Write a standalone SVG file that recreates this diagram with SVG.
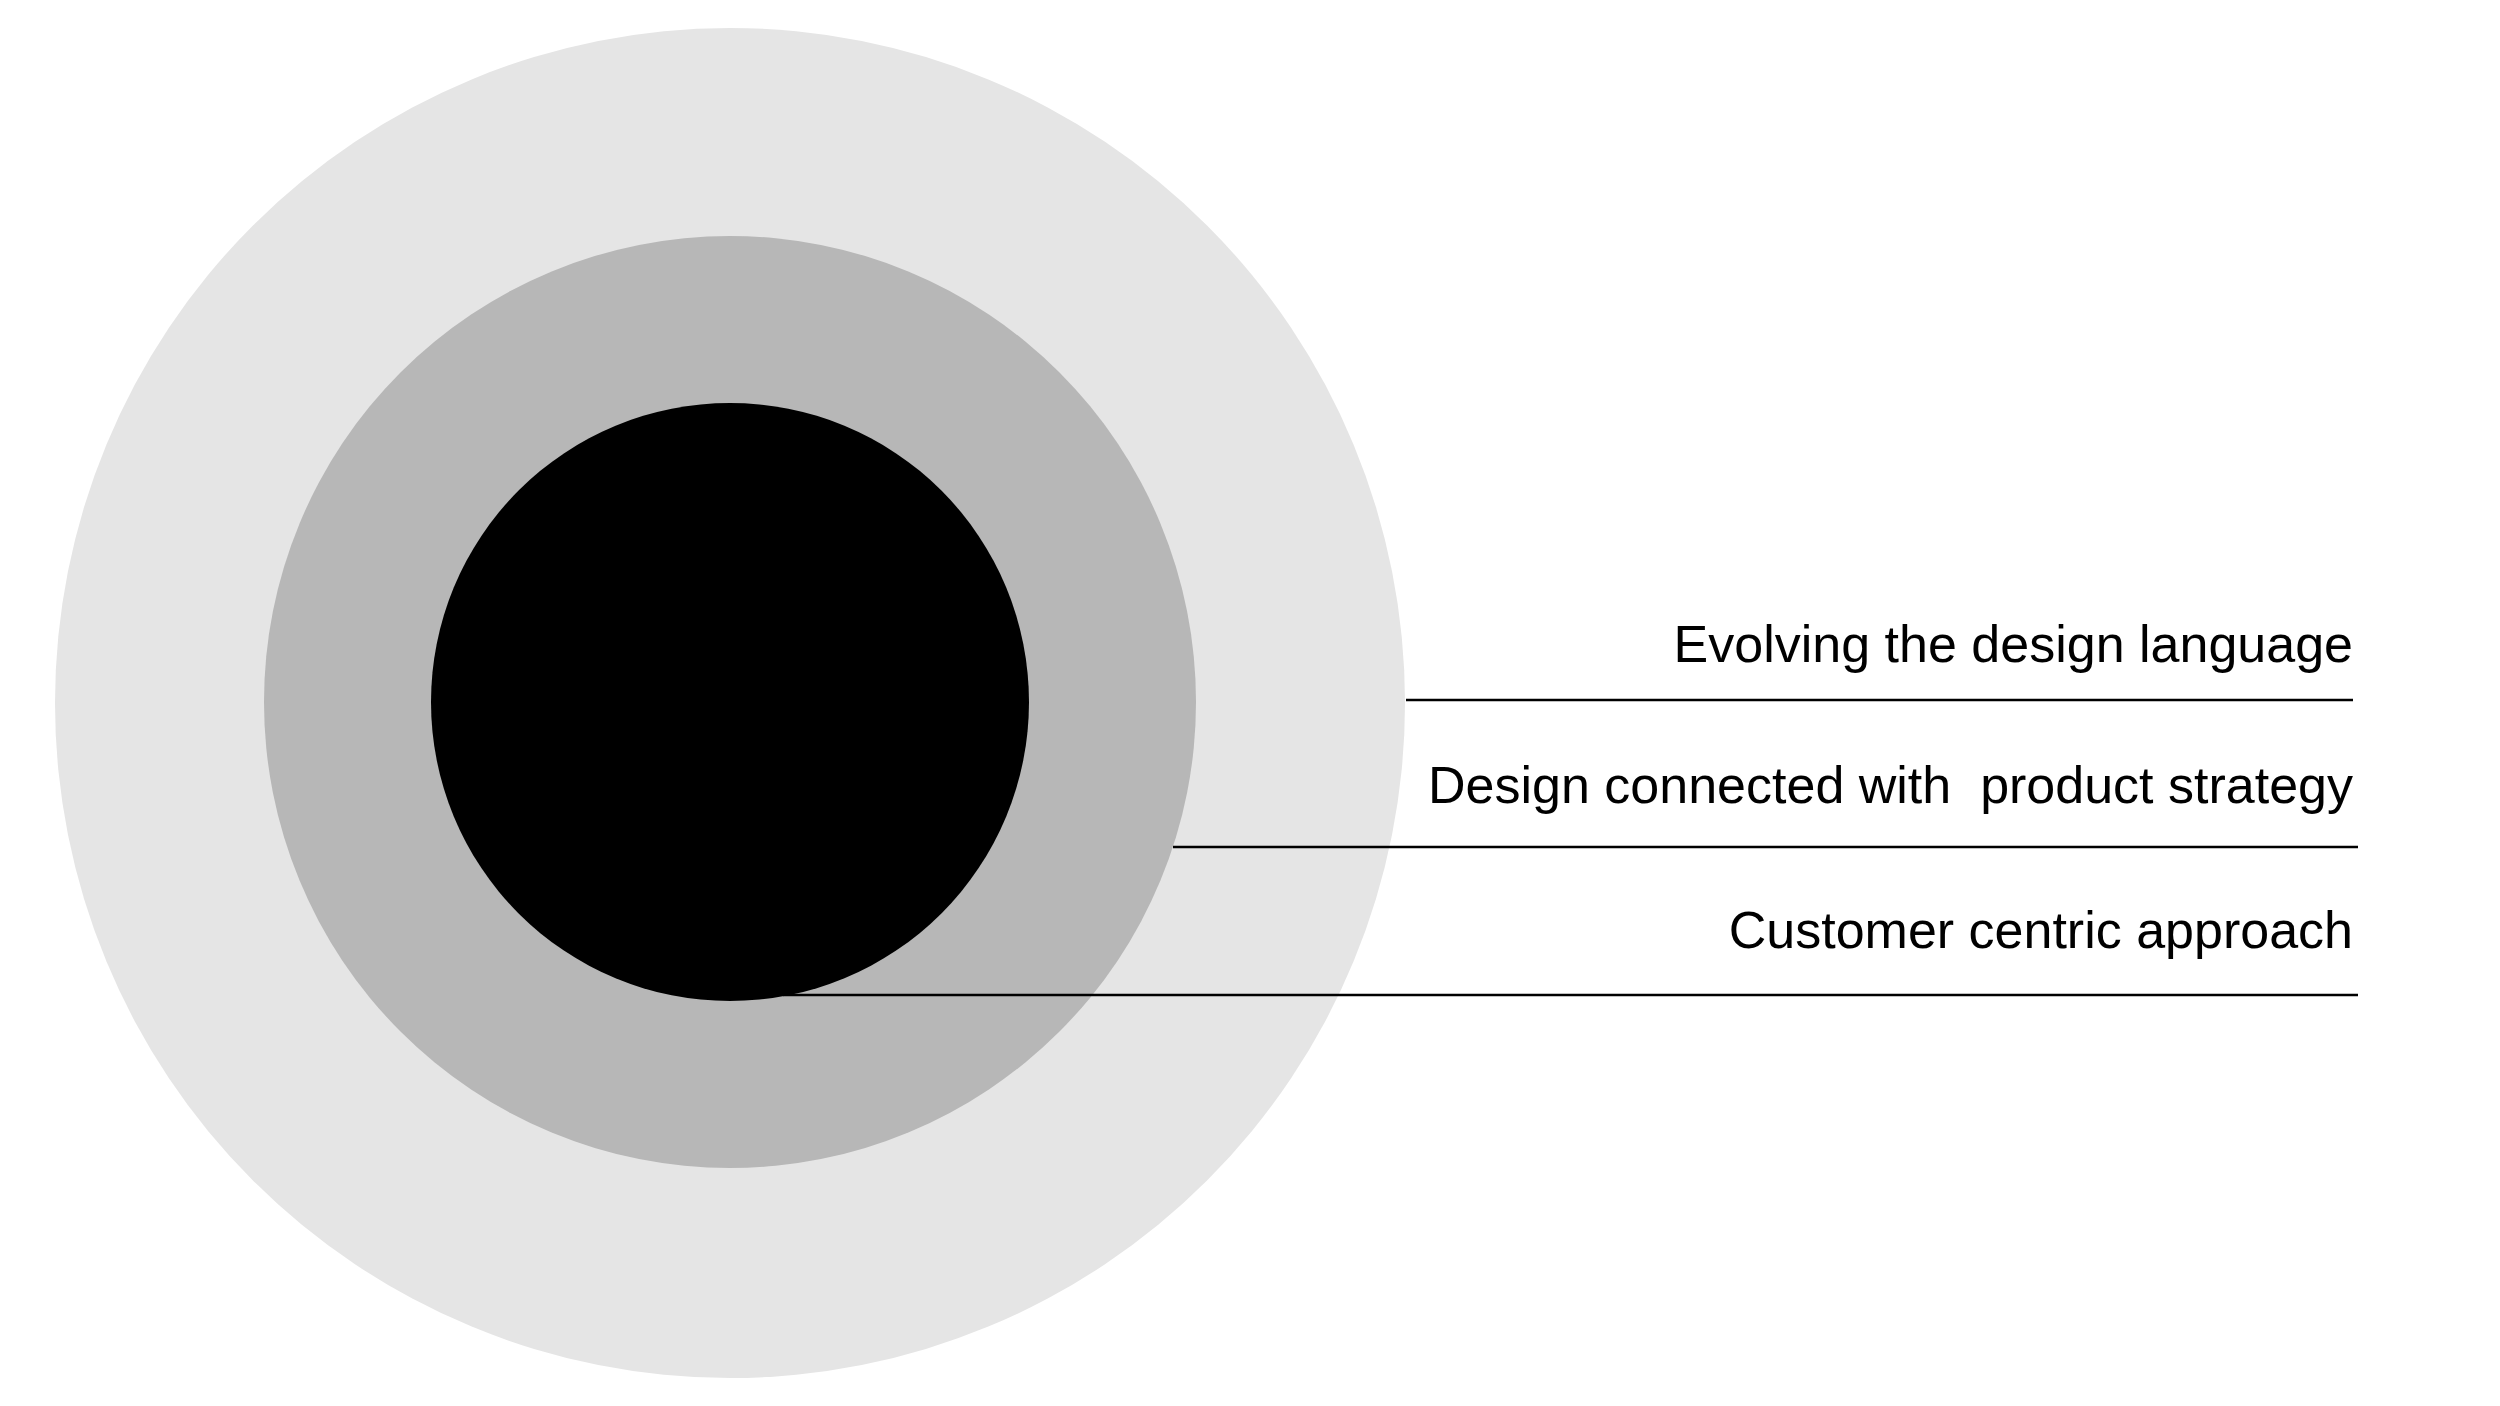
<svg xmlns="http://www.w3.org/2000/svg" width="2500" height="1406" viewBox="0 0 2500 1406">
<style>
.lbl{font-family:"Liberation Sans",Arial,Helvetica,sans-serif;font-size:52px;fill:#000;text-anchor:end;white-space:pre}
.conn{stroke:#000;stroke-width:2.5;fill:none}
</style>
<rect width="2500" height="1406" fill="#fff"/>
<g id="outer"><circle cx="730" cy="703" r="675" fill="#e5e5e5"/></g>
<g id="middle"><circle cx="730" cy="702" r="466" fill="#b7b7b7"/></g>
<g id="inner"><circle cx="730" cy="702" r="299" fill="#000"/></g>
<g id="connectors">
<line class="conn" x1="1406" y1="700" x2="2353" y2="700"/>
<line class="conn" x1="1173" y1="847" x2="2358" y2="847"/>
<line class="conn" x1="783" y1="995" x2="2358" y2="995"/>
</g>
<g id="label1"><text class="lbl" x="2353" y="662">Evolving the design language</text></g>
<g id="label2"><text class="lbl" x="2353" y="803" xml:space="preserve">Design connected with  product strategy</text></g>
<g id="label3"><text class="lbl" x="2353" y="948">Customer centric approach</text></g>
</svg>
